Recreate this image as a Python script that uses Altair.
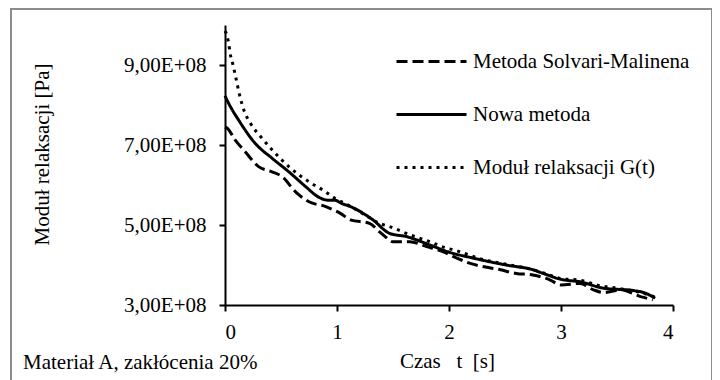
import altair as alt
import pandas as pd

# Moduł relaksacji G(t) (dotted)
t_g = [0.0, 0.01, 0.03, 0.05, 0.07, 0.10, 0.13, 0.17, 0.23, 0.33, 0.42, 0.57, 0.75, 0.87, 0.98,
       1.10, 1.25, 1.38, 1.47, 1.62, 1.83, 1.98, 2.04, 2.31, 2.51, 2.75, 2.90, 3.00, 3.17, 3.35,
       3.50, 3.70, 3.84]
v_g = [9.85, 9.80, 9.58, 9.23, 9.02, 8.64, 8.25, 7.86, 7.53, 7.17, 6.88, 6.46, 6.08, 5.88, 5.67,
       5.50, 5.25, 5.04, 4.96, 4.79, 4.58, 4.42, 4.38, 4.13, 4.02, 3.88, 3.75, 3.66, 3.62, 3.48,
       3.42, 3.32, 3.20]

# Nowa metoda (solid)
t_n = [0.0, 0.05, 0.12, 0.27, 0.42, 0.57, 0.72, 0.84, 0.92, 0.98, 1.04, 1.12, 1.32, 1.47, 1.62,
       1.83, 1.99, 2.22, 2.51, 2.75, 2.84, 3.00, 3.17, 3.38, 3.65, 3.76, 3.84]
v_n = [8.23, 7.95, 7.63, 7.04, 6.67, 6.33, 5.96, 5.69, 5.62, 5.62, 5.54, 5.46, 5.13, 4.79, 4.71,
       4.50, 4.33, 4.17, 4.00, 3.88, 3.79, 3.64, 3.58, 3.42, 3.36, 3.29, 3.17]

# Metoda Solvari-Malinena (dashed)
t_s = [0.0, 0.02, 0.09, 0.18, 0.30, 0.42, 0.51, 0.63, 0.75, 0.90, 1.03, 1.12, 1.29, 1.38, 1.43,
       1.50, 1.65, 1.80, 1.95, 2.04, 2.19, 2.46, 2.60, 2.75, 2.90, 3.00, 3.17, 3.29, 3.38, 3.53,
       3.71, 3.82]
v_s = [7.45, 7.42, 7.13, 6.83, 6.46, 6.33, 6.21, 5.83, 5.58, 5.46, 5.29, 5.13, 5.04, 4.83, 4.71,
       4.58, 4.58, 4.46, 4.33, 4.21, 4.04, 3.88, 3.79, 3.75, 3.63, 3.50, 3.54, 3.38, 3.31, 3.38,
       3.21, 3.13]

series_names = ["Metoda Solvari-Malinena", "Nowa metoda", "Moduł relaksacji G(t)"]
x_ticks = [0, 1, 2, 3, 4]
y_ticks = [3e8, 5e8, 7e8, 9e8]

rows = []
for name, ts, vs in [(series_names[0], t_s, v_s), (series_names[1], t_n, v_n), (series_names[2], t_g, v_g)]:
    for t, v in zip(ts, vs):
        rows.append({"t": t, "G": v * 1e8, "series": name})
df = pd.DataFrame(rows)

FONT = "Liberation Serif"

lines = alt.Chart(df).mark_line(color="black", strokeWidth=3, interpolate="monotone").encode(
    x=alt.X("t:Q", scale=alt.Scale(domain=[0, 4], nice=False),
            axis=alt.Axis(values=x_ticks, title="Czas\u00a0\u00a0\u00a0t\u00a0\u00a0[s]",
                          titleX=222, titleY=62, titleBaseline="alphabetic",
                          labelPadding=10, format="d")),
    y=alt.Y("G:Q", scale=alt.Scale(domain=[3e8, 1e9], nice=False, zero=False),
            axis=alt.Axis(values=y_ticks, title="Moduł relaksacji [Pa]",
                          labelExpr="replace(format(datum.value/1e8, '.2f'), '.', ',') + 'E+08'",
                          labelPadding=13, titleAngle=270, titleX=-183, titleY=129,
                          titleAlign="center", titleBaseline="middle")),
    strokeDash=alt.StrokeDash("series:N",
        scale=alt.Scale(domain=series_names, range=[[11, 5], [1, 0], [3, 5]]),
        legend=alt.Legend(title=None, orient="none", legendX=191, legendY=21,
                          symbolType="M-2.5,0H2.5", symbolSize=784, symbolStrokeWidth=3,
                          symbolStrokeColor="black", labelOffset=26, rowPadding=27,
                          padding=0, labelFontSize=21, labelFont=FONT, labelColor="black",
                          labelLimit=400)),
    detail="series:N",
    order="t:Q",
)

frame = alt.Chart(pd.DataFrame({"k": [0]})).mark_rect(
    fillOpacity=0, stroke="#8c8c8c", strokeWidth=2
).encode(x=alt.value(-214), x2=alt.value(487), y=alt.value(-16), y2=alt.value(370))

note = alt.Chart(pd.DataFrame({"txt": ["Materiał A, zakłócenia 20%"]})).mark_text(
    align="left", baseline="alphabetic", font=FONT, fontSize=21, color="black"
).encode(text="txt:N", x=alt.value(-202), y=alt.value(344))

chart = alt.layer(frame, lines, note).properties(
    width=448, height=280,
    autosize="none",
    padding={"left": 217, "top": 17, "right": 39, "bottom": 75},
).configure_view(stroke=None).configure_axis(
    domainColor="black", domainWidth=2, tickColor="black", tickWidth=2, tickSize=6,
    grid=False, labelFont=FONT, labelFontSize=21, labelColor="black",
    titleFont=FONT, titleFontSize=21, titleColor="black", titleFontWeight="normal",
).configure_axisX(labelAngle=0)

chart.save("out.html", embed_options={"renderer": "svg", "actions": False})
